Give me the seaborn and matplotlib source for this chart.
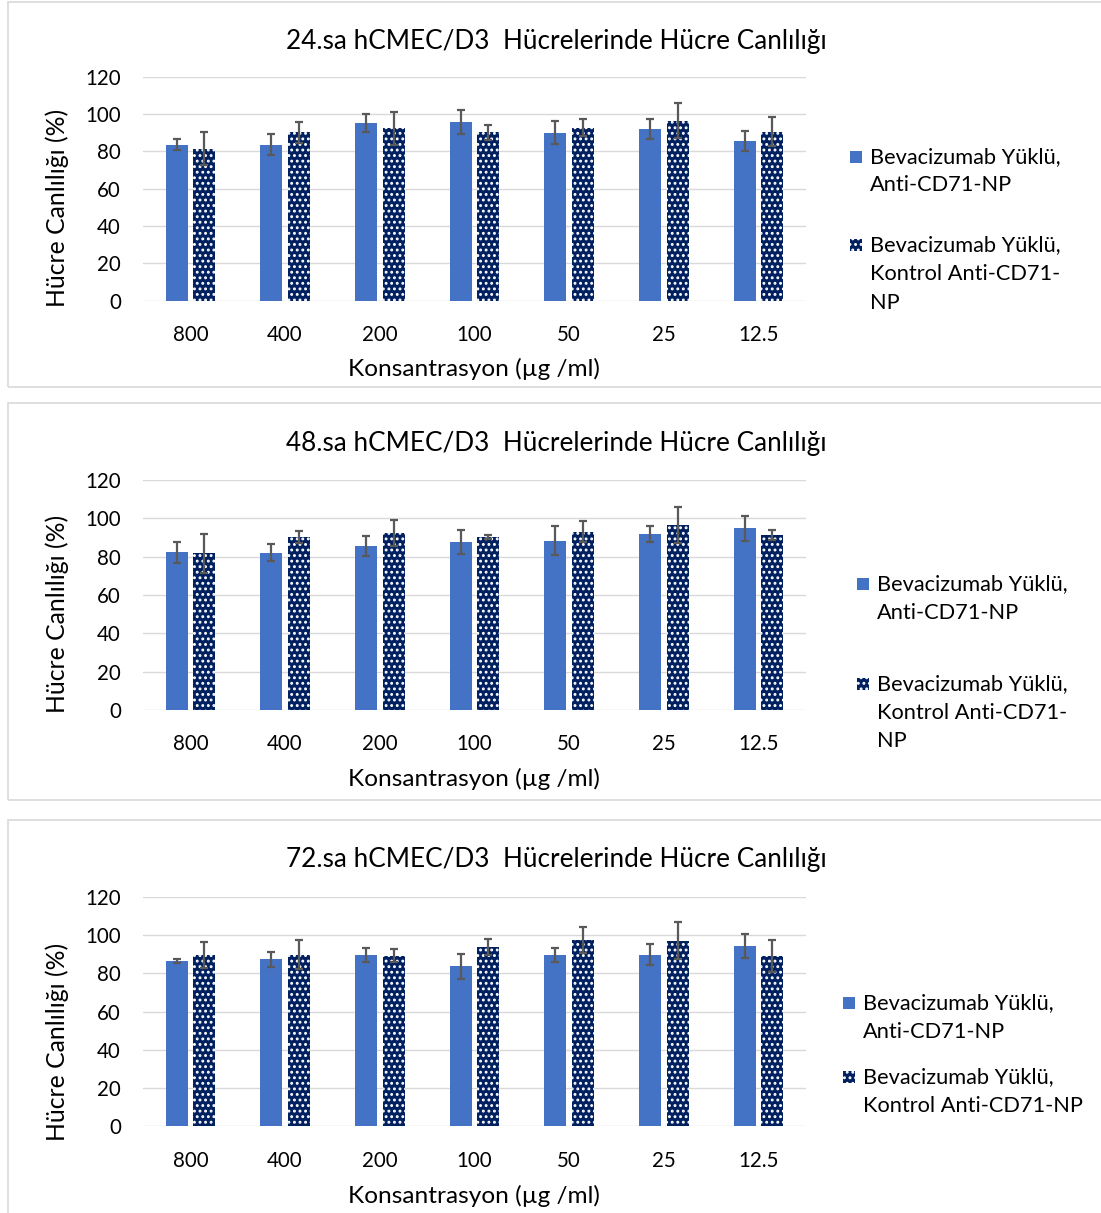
import matplotlib
matplotlib.use("Agg")
import matplotlib.pyplot as plt
import numpy as np
import pandas as pd
import seaborn as sns
from matplotlib.patches import Rectangle

# ---- data -------------------------------------------------------------
concentrations = ["800", "400", "200", "100", "50", "25", "12.5"]
series_a = "Bevacizumab Yüklü, Anti-CD71-NP"
series_b = "Bevacizumab Yüklü, Kontrol Anti-CD71-NP"

titles = [
    "24.sa hCMEC/D3  Hücrelerinde Hücre Canlılığı",
    "48.sa hCMEC/D3  Hücrelerinde Hücre Canlılığı",
    "72.sa hCMEC/D3  Hücrelerinde Hücre Canlılığı",
]

anti_24 = [83.5, 83.5, 95.2, 95.7, 90.0, 92.1, 85.5]
anti_24_err = [2.9, 5.7, 5.0, 6.5, 6.2, 5.3, 5.5]
ctrl_24 = [81.5, 90.2, 92.3, 90.2, 92.7, 96.4, 90.5]
ctrl_24_err = [8.7, 5.8, 9.0, 3.9, 4.4, 9.3, 7.8]

anti_48 = [82.3, 82.1, 85.6, 87.8, 88.3, 91.8, 94.8]
anti_48_err = [5.6, 4.6, 5.2, 6.2, 7.6, 4.4, 6.6]
ctrl_48 = [81.7, 90.3, 92.3, 90.3, 93.0, 96.5, 91.1]
ctrl_48_err = [10.3, 3.0, 6.6, 1.1, 5.6, 9.3, 2.6]

anti_72 = [86.3, 87.4, 89.5, 83.7, 89.7, 89.8, 94.2]
anti_72_err = [1.1, 3.8, 3.7, 6.7, 3.8, 5.5, 6.2]
ctrl_72 = [89.5, 89.8, 89.3, 94.0, 97.5, 97.0, 89.3]
ctrl_72_err = [6.7, 7.6, 3.5, 4.2, 6.9, 9.7, 8.4]

y_ticks = [0, 20, 40, 60, 80, 100, 120]
y_label = "Hücre Canlılığı (%)"
x_label = "Konsantrasyon (µg /ml)"

legend_lines = [
    (["Bevacizumab Yüklü,", "Anti-CD71-NP"],
     ["Bevacizumab Yüklü,", "Kontrol Anti-CD71-", "NP"]),
    (["Bevacizumab Yüklü,", "Anti-CD71-NP"],
     ["Bevacizumab Yüklü,", "Kontrol Anti-CD71-", "NP"]),
    (["Bevacizumab Yüklü,", "Anti-CD71-NP"],
     ["Bevacizumab Yüklü,", "Kontrol Anti-CD71-NP"]),
]

panels = [
    (anti_24, anti_24_err, ctrl_24, ctrl_24_err),
    (anti_48, anti_48_err, ctrl_48, ctrl_48_err),
    (anti_72, anti_72_err, ctrl_72, ctrl_72_err),
]

# ---- style ------------------------------------------------------------
sns.set_theme(style="white")
plt.rcParams["font.family"] = ["Lato", "DejaVu Sans"]
plt.rcParams["hatch.linewidth"] = 1.3

BLUE = "#4472C4"
NAVY = "#002060"
GRID = "#d9d9d9"
ERR = "#595959"
TXT = "#000000"
HATCH = "..."

W, H = 1101, 1213
fig = plt.figure(figsize=(W / 100, H / 100), dpi=100)


def fx(px):
    return px / W


def fy(py):
    return 1 - py / H


# panel layout in pixels
layout = [
    dict(frame=(2, 387), top=76.7, bot=300.7, title=42, xlab=369, ylab=208,
         leg_x=850, leg_y=([157, 185], [245, 274, 303])),
    dict(frame=(403, 800), top=480, bot=710, title=443, xlab=779, ylab=614,
         leg_x=857, leg_y=([584, 613], [684, 713, 741])),
    dict(frame=(820, 1240), top=897, bot=1126.3, title=860, xlab=1196,
         ylab=1042, leg_x=843, leg_y=([1003, 1032], [1077, 1106])),
]

AX_L, AX_R = 143, 806

for i, (lay, vals) in enumerate(zip(layout, panels)):
    a, a_err, c, c_err = vals

    # frame around each chart
    ft, fb = lay["frame"]
    fig.patches.append(Rectangle((fx(8), fy(fb)), fx(1200), (fb - ft) / H,
                                 transform=fig.transFigure, fill=False,
                                 edgecolor=GRID, linewidth=1.2, zorder=0))

    ax = fig.add_axes([fx(AX_L), fy(lay["bot"]), fx(AX_R - AX_L),
                       (lay["bot"] - lay["top"]) / H])

    df = pd.DataFrame({
        "Konsantrasyon": concentrations * 2,
        "Canlılık": a + c,
        "Seri": [series_a] * len(a) + [series_b] * len(c),
    })
    sns.barplot(data=df, x="Konsantrasyon", y="Canlılık", hue="Seri",
                palette=[BLUE, NAVY], saturation=1, errorbar=None,
                width=0.58, gap=0.2, linewidth=0, ax=ax, legend=False,
                zorder=2)

    cont_a, cont_b = ax.containers[0], ax.containers[1]
    for p in cont_b:
        p.set_hatch(HATCH)
        p.set_edgecolor("white")
        p.set_linewidth(0)
    for cont, err, v in ((cont_a, a_err, a), (cont_b, c_err, c)):
        xs = [p.get_x() + p.get_width() / 2 for p in cont]
        ax.errorbar(xs, v, yerr=err, fmt="none", ecolor=ERR, elinewidth=1.6,
                    capsize=3.2, capthick=1.6, zorder=3)

    ax.set_ylim(0, 120)
    ax.set_xlim(-0.5, len(concentrations) - 0.5)
    ax.set_yticks(y_ticks)
    ax.yaxis.grid(True, color=GRID, linewidth=1.0, zorder=0)
    ax.set_axisbelow(True)
    for s in ax.spines.values():
        s.set_visible(False)
    ax.tick_params(axis="both", length=0, labelsize=14.8, labelcolor=TXT)
    ax.tick_params(axis="y", pad=16)
    ax.tick_params(axis="x", pad=17.5)
    ax.set_xlabel("")
    ax.set_ylabel("")

    # titles and axis labels
    fig.text(fx(556), fy(lay["title"]), titles[i], ha="center", va="center",
             fontsize=18.8, color=TXT)
    fig.text(fx(474), fy(lay["xlab"]), x_label, ha="center", va="center",
             fontsize=17.6, color=TXT)
    fig.text(fx(57), fy(lay["ylab"]), y_label,
             ha="center", va="center", rotation=90, fontsize=17.8, color=TXT)

    # legend keys and labels
    lx = lay["leg_x"]
    ys_a, ys_b = lay["leg_y"]
    lines_a, lines_b = legend_lines[i]
    for ys, lines, face, hatch in ((ys_a, lines_a, BLUE, None),
                                   (ys_b, lines_b, NAVY, HATCH)):
        key = Rectangle((fx(lx), fy(ys[0] + 6)), fx(12), 12 / H,
                        transform=fig.transFigure, facecolor=face,
                        edgecolor="white" if hatch else face,
                        linewidth=0, hatch=hatch)
        fig.patches.append(key)
        for yy, ln in zip(ys, lines):
            fig.text(fx(lx + 20), fy(yy), ln, ha="left", va="center",
                     fontsize=15.7, color=TXT)

fig.savefig("out.png", dpi=100)
